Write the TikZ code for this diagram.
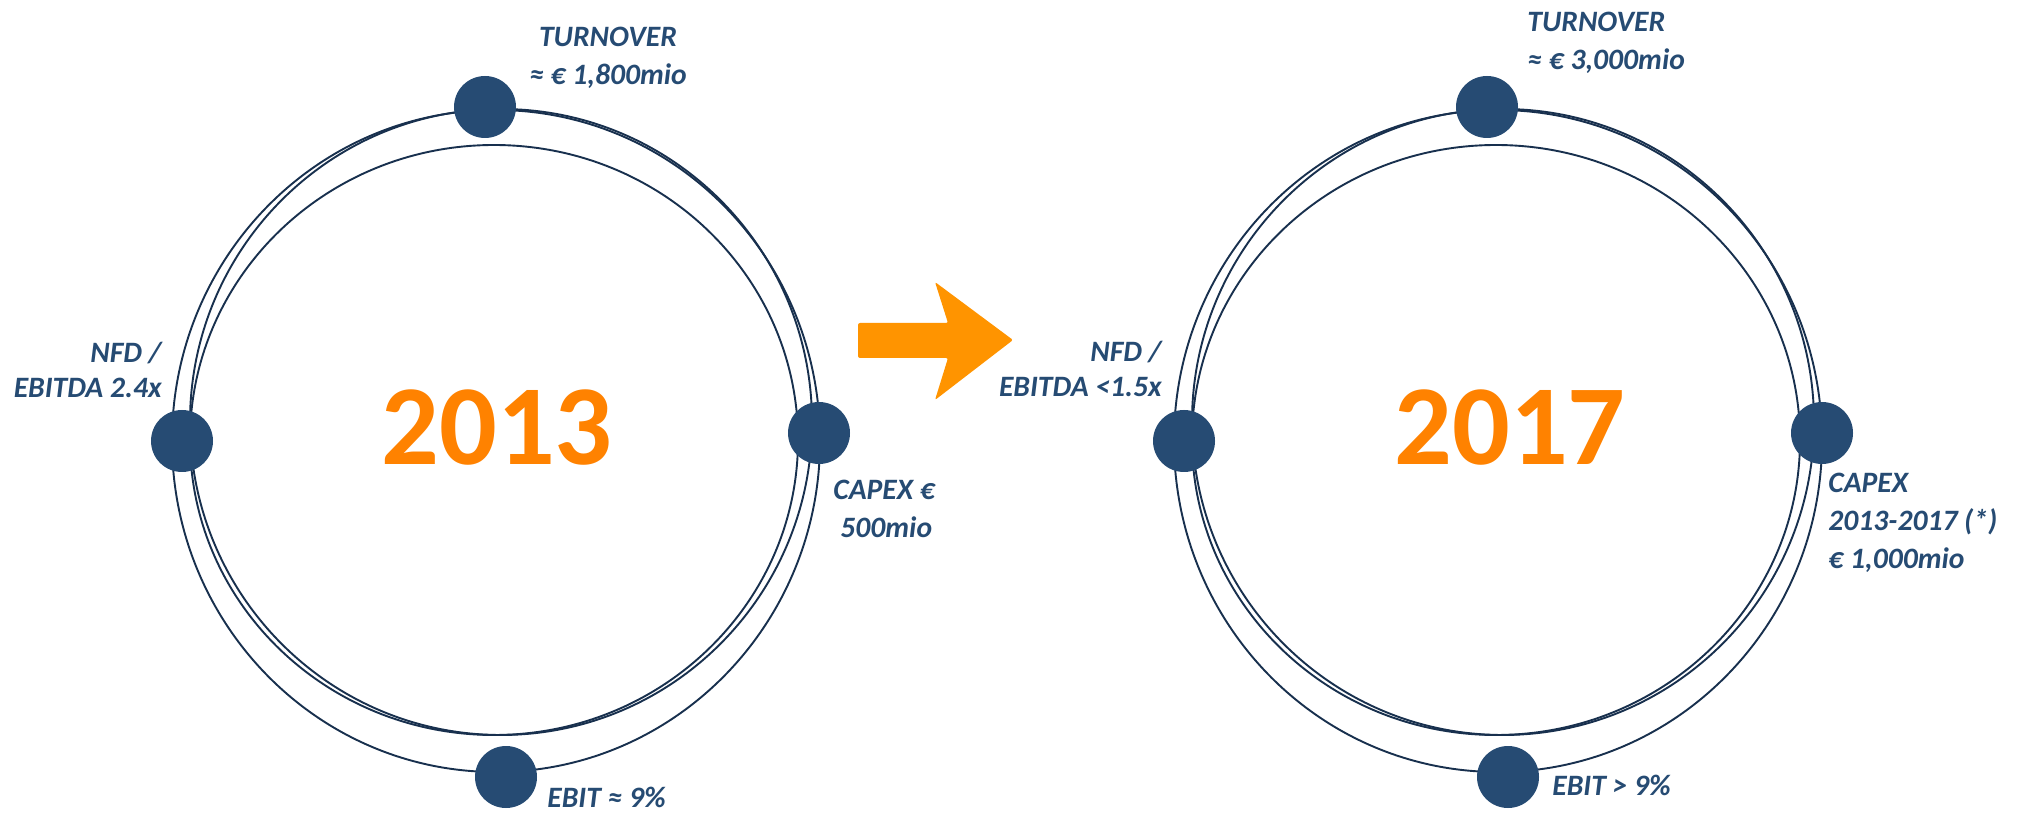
\documentclass[tikz,border=0pt]{standalone}
\usepackage{fontspec}
\setmainfont{Carlito}
\definecolor{dotblue}{RGB}{38,75,115}
\definecolor{lineblue}{RGB}{24,48,78}
\definecolor{numorange}{RGB}{255,130,0}
\definecolor{arroworange}{RGB}{255,148,0}
\begin{document}
\begin{tikzpicture}[x=0.5pt,y=-0.5pt,
  ring/.style={draw=lineblue,line width=0.95pt},
  kpi/.style={circle,fill=dotblue,minimum size=31pt,inner sep=0pt},
  lbl/.style={text=dotblue,font=\fontsize{14.8pt}{19pt}\selectfont\bfseries\itshape,inner sep=0pt},
  nfd/.style={text=dotblue,font=\fontsize{14.8pt}{17.5pt}\selectfont\bfseries\itshape,inner sep=0pt},
  yearlbl/.style={text=numorange,font=\fontsize{57pt}{60pt}\selectfont\bfseries,inner sep=0pt}]
\useasboundingbox (0,0) rectangle (2034,817);
\fill[white] (0,0) rectangle (2034,817);

% ---------- left diagram (2013) ----------
\draw[ring] (496,441) ellipse [x radius=162pt, y radius=165.5pt];
\draw[ring] (501,422) ellipse [x radius=155.5pt, y radius=156.5pt];
\draw[ring] (494,440) ellipse [x radius=152pt, y radius=147.5pt];
\node[kpi] (lt) at (485,107) {};
\node[kpi] (ll) at (182,441) {};
\node[kpi] (lr) at (819,433) {};
\node[kpi] (lb) at (506,777) {};
\node[yearlbl, anchor=base] (y13) at (497,465) {2013};
\node[lbl, anchor=base, align=center] (lturn) at (608,85) {TURNOVER\\≈ € 1,800mio};
\node[nfd, anchor=base east, align=right] (lnfd) at (162,398) {NFD /\\EBITDA 2.4x};
\node[lbl, anchor=base west, align=left] (lcap) at (833,538) {CAPEX €\\\hspace*{3.5pt}500mio};
\node[lbl, anchor=base west] (lebit) at (547,807) {EBIT ≈ 9\%};

% ---------- arrow ----------
\fill[arroworange, rounded corners=1pt] (858,323) -- (948,323) -- (935,282) -- (1013,340)
  -- (935,400) -- (948,358) -- (858,358) -- cycle;

% ---------- right diagram (2017) ----------
\draw[ring] (1498,441) ellipse [x radius=162pt, y radius=165.5pt];
\draw[ring] (1503,422) ellipse [x radius=155.5pt, y radius=156.5pt];
\draw[ring] (1496,440) ellipse [x radius=152pt, y radius=147.5pt];
\node[kpi] (rt) at (1487,107) {};
\node[kpi] (rl) at (1184,441) {};
\node[kpi] (rr) at (1822,433) {};
\node[kpi] (rb) at (1508,777) {};
\node[yearlbl, anchor=base] (y17) at (1510,465) {2017};
\node[lbl, anchor=base west, align=left] (rturn) at (1527,70) {TURNOVER\\≈ € 3,000mio};
\node[nfd, anchor=base east, align=right] (rnfd) at (1162,397) {NFD /\\EBITDA <1.5x};
\node[lbl, anchor=base west, align=left] (rcap) at (1828,568) {CAPEX\\2013-2017 (*)\\€ 1,000mio};
\node[lbl, anchor=base west] (rebit) at (1552,795) {EBIT > 9\%};
\end{tikzpicture}
\end{document}
